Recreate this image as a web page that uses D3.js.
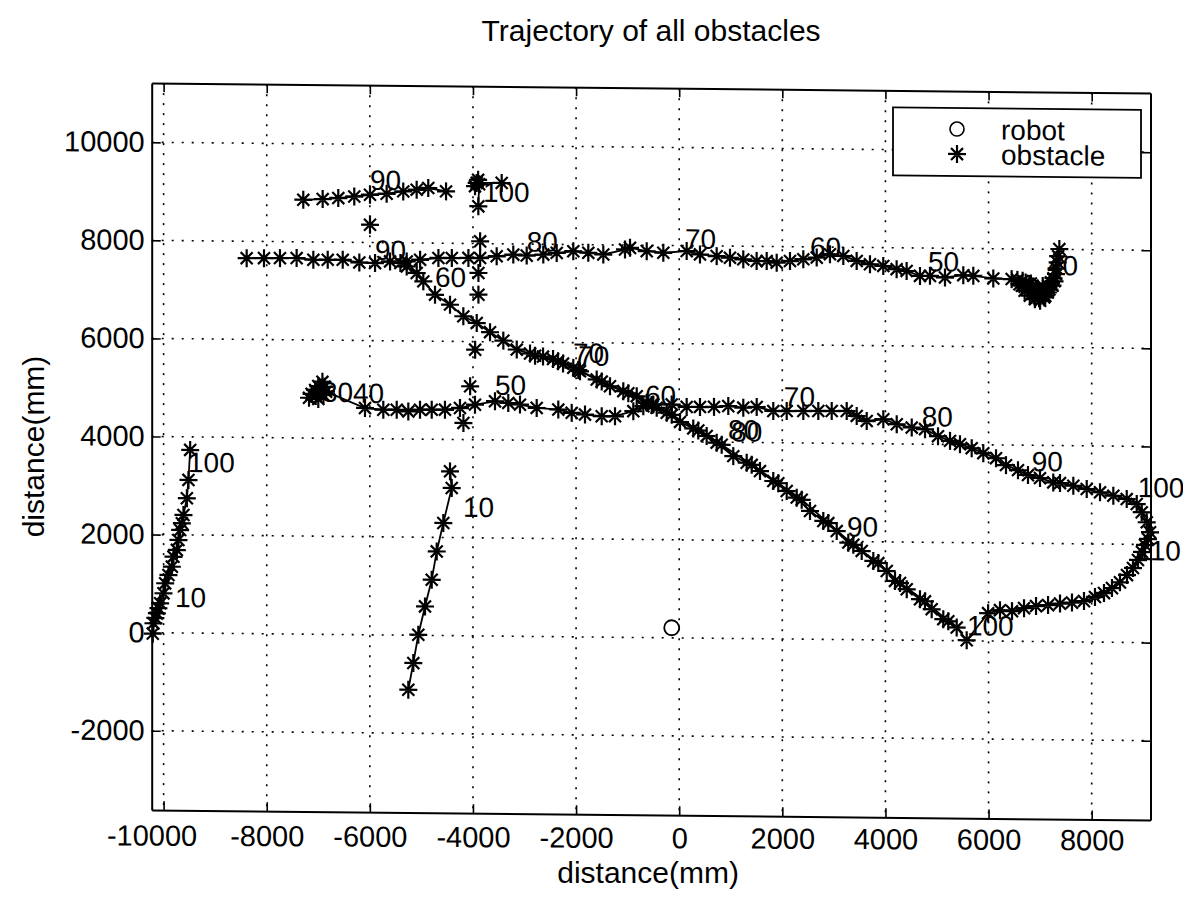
<!DOCTYPE html>
<html>
<head>
<meta charset="utf-8">
<script src="https://cdn.jsdelivr.net/npm/d3@7"></script>
<style>
  body { margin: 0; background: #fff; }
  text { font-family: "Liberation Sans", Arial, sans-serif; fill: #000; }
</style>
</head>
<body>
<div id="viz"></div>
<script>
// tick values of both axes
var xTicks = [-10000, -8000, -6000, -4000, -2000, 0, 2000, 4000, 6000, 8000];
var yTicks = [-2000, 0, 2000, 4000, 6000, 8000, 10000];

// robot position
var robot = [[-145, 205]];

// long upper track (comes down the right arm of the knot near x=7000, then goes left)
var mainTrack = [
  [7373, 8006], [7350, 7860], [7340, 7734], [7320, 7610], [7307, 7496], [7280, 7350], [7260, 7410], [7210, 7325], [7240, 7260], [7180, 7180],
  [7160, 7250], [7150, 7120], [7113, 7188], [7100, 7050], [7080, 7020], [7060, 7130], [7050, 7250], [7016, 7084], [7000, 6950], [6980, 7000],
  [6950, 7200], [6900, 6980], [6880, 7120], [6800, 7050], [6970, 7130], [6919, 7186], [6860, 7240], [6820, 7300], [6750, 7200], [6700, 7150],
  [6791, 7286], [6720, 7320], [6650, 7250], [6600, 7280], [6661, 7351], [6560, 7370], [6448, 7384], [6092, 7394],
  [5704, 7443], [5510, 7455], [5155, 7404], [4864, 7434], [4670, 7431], [4411, 7530], [4217, 7563], [3958, 7627], [3700, 7659], [3442, 7723],
  [3183, 7822], [2924, 7854], [2667, 7783], [2407, 7746], [2149, 7708], [1891, 7672], [1697, 7703], [1502, 7700], [1243, 7732], [985, 7763],
  [727, 7793], [403, 7824], [145, 7889], [-308, 7851], [-630, 7880], [-954, 7944], [-1051, 7909], [-1472, 7803], [-1763, 7834], [-2054, 7863],
  [-2376, 7826], [-2636, 7789], [-2958, 7765], [-3218, 7783], [-3540, 7745], [-3861, 7707], [-4088, 7705], [-4410, 7701], [-4670, 7698], [-5025, 7659],
  [-5285, 7622], [-5608, 7618], [-5899, 7582], [-6204, 7591], [-6526, 7642], [-6817, 7639], [-7096, 7636], [-7420, 7667], [-7743, 7663], [-8053, 7659],
  [-8389, 7655]
];
var mainLabels = [["40", 7134, 7678], ["50", 4826, 7733], ["60", 2537, 8002], ["70", 112, 8147], ["80", -2958, 8056], ["90", -5899, 7853]];

// short track at the top left
var topTrack = [
  [-7291, 8857], [-6915, 8876], [-6612, 8900], [-6302, 8935], [-5997, 8974], [-5674, 8998], [-5352, 9049], [-5092, 9086], [-4867, 9123], [-4522, 9058]
];
var topCluster = [[-3443, 9242], [-3928, 9236], [-3900, 9300], [-3960, 9170], [-3880, 9210], [-3896, 8760]];
var topLabels = [["90", -5997, 9280], ["100", -3807, 9060]];

// single detections without a line
var singles = [[-5997, 8362], [-3861, 8046], [-3894, 7402], [-3894, 6959], [-3958, 5836], [-4055, 5087], [-4185, 4339]];

// diagonal track down to the right, then along the bottom of the loop
var diagTrack = [
  [-5407, 7588], [-5285, 7520], [-5091, 7388], [-4963, 7218], [-4736, 6949], [-4445, 6749], [-4187, 6513], [-3927, 6381], [-3669, 6196], [-3411, 6026],
  [-3151, 5846], [-2893, 5767], [-2641, 5709], [-2447, 5660], [-2253, 5570], [-2054, 5485], [-1924, 5417], [-1600, 5252], [-1342, 5118], [-1084, 5020],
  [-824, 4920], [-630, 4787], [-436, 4688], [-242, 4588], [16, 4404], [273, 4274], [533, 4124], [727, 3988], [1049, 3718], [1309, 3586],
  [1567, 3418], [1825, 3217], [2085, 3017], [2279, 2884], [2537, 2614], [2795, 2413], [3055, 2211], [3280, 1977], [3540, 1810], [3765, 1608],
  [4025, 1407], [4186, 1205], [4413, 1039], [4670, 837], [4897, 637], [5122, 435], [5382, 268], [5576, 11],
  [5991, 567], [6222, 631], [6455, 614], [6688, 677], [6921, 721], [7154, 744], [7386, 777], [7618, 800], [7851, 833], [8064, 918],
  [8239, 1001], [8394, 1104], [8549, 1223], [8685, 1373], [8801, 1518], [8898, 1682], [8976, 1846], [9034, 1989], [9092, 2113]
];
var diagLabels = [["60", -4736, 7316], ["70", -2060, 5797], ["80", 946, 4262], ["90", 3253, 2310], ["100", 5580, 318], ["110", 8863, 1885]];

// second track lying on the diagonal
var diagTrack2 = [
  [-2796, 5726], [-2350, 5619], [-1957, 5444], [-1503, 5211], [-987, 4979], [-533, 4746], [-145, 4547], [370, 4233], [824, 3947], [1406, 3545],
  [1922, 3176], [2376, 2843], [2892, 2372], [3377, 1936], [3862, 1567], [4283, 1164], [4767, 796], [5219, 394]
];
var diag2Labels = [["70", -1960, 5738], ["80", 1010, 4222]];

// middle track going right into the loop
var midTrack = [
  [-7180, 4820], [-7130, 4900], [-7060, 4980], [-7000, 5060], [-6920, 5150], [-6880, 5050], [-6960, 4950], [-7050, 4860], [-6900, 4880], [-7000, 4800],
  [-6850, 4950], [-6094, 4623], [-5739, 4592], [-5479, 4595], [-5254, 4563], [-5027, 4600], [-4800, 4603], [-4543, 4606], [-4252, 4644], [-3961, 4715],
  [-3573, 4787], [-3315, 4757], [-3088, 4725], [-2764, 4661], [-2345, 4632], [-2085, 4567], [-1827, 4535], [-1503, 4504], [-1245, 4508], [-890, 4614],
  [-696, 4718], [-502, 4755], [-145, 4759], [145, 4712], [403, 4714], [675, 4718], [952, 4737], [1243, 4708], [1503, 4726], [1825, 4645],
  [2085, 4648], [2407, 4652], [2698, 4655], [2958, 4658], [3249, 4661], [3443, 4562], [3637, 4462], [3959, 4500], [4219, 4401], [4510, 4337],
  [4768, 4306], [5020, 4166], [5253, 4073], [5446, 4008], [5673, 3929], [5898, 3829], [6145, 3730], [6338, 3590], [6571, 3490], [6765, 3391],
  [6998, 3332], [7255, 3247], [7386, 3235], [7644, 3183], [7904, 3119], [8162, 3054], [8420, 2988], [8680, 2923], [8874, 2824], [8971, 2656],
  [9068, 2452], [9132, 2250]
];
var midLabels = [["30", -6928, 4946], ["40", -6327, 4932], ["50", -3573, 5127], ["60", -663, 4946], ["70", 2029, 4947], ["80", 4703, 4570], ["90", 6837, 3677], ["100", 8893, 3170]];

// track along the left edge
var leftTrack = [
  [-10210, -20], [-10197, 190], [-10160, 300], [-10131, 395], [-10100, 500], [-10067, 600], [-10003, 804], [-9970, 1008], [-9906, 1179], [-9840, 1349],
  [-9809, 1553], [-9743, 1691], [-9712, 1895], [-9679, 2099], [-9646, 2236], [-9615, 2406], [-9549, 2747], [-9518, 3121], [-9485, 3733]
];
var leftLabels = [["10", -9779, 732], ["100", -9526, 3488]];

// short track near x=-4800
var lowTrack = [[-5254, -1113], [-5157, -567], [-5060, 11], [-4930, 590], [-4800, 1136], [-4703, 1714], [-4575, 2295], [-4412, 3011], [-4445, 3349]];
var lowLabels = [["10", -4193, 2631]];

var W = 1183, H = 898;
var pLeft = 151.7, pRight = 1150.5, pTop = 83, pBottom = 810;
var shear = 0.01; // the scanned figure sags to the right

var x = d3.scaleLinear().domain([-10231, 9141]).range([pLeft, pRight]);
var y = d3.scaleLinear().domain([-3617, 11208]).range([pBottom, pTop]);
var fmt = function (d) { return String(d); };

var svg = d3.select("div#viz").append("svg")
  .attr("width", W).attr("height", H)
  .style("background", "#fff");

var plot = svg.append("g")
  .attr("transform", "matrix(1," + shear + ",0,1,0," + (-shear * pLeft) + ")");

// dotted grid
plot.selectAll(null).data(xTicks).enter().append("line")
  .attr("x1", function (d) { return x(d); }).attr("x2", function (d) { return x(d); })
  .attr("y1", pTop).attr("y2", pBottom)
  .attr("stroke", "#000").attr("stroke-width", 1.6).attr("stroke-dasharray", "2,8");
plot.selectAll(null).data(yTicks).enter().append("line")
  .attr("y1", function (d) { return y(d); }).attr("y2", function (d) { return y(d); })
  .attr("x1", pLeft).attr("x2", pRight)
  .attr("stroke", "#000").attr("stroke-width", 1.6).attr("stroke-dasharray", "2,8");

// tracks
var line = d3.line().x(function (d) { return x(d[0]); }).y(function (d) { return y(d[1]); });
var star = "M-9,0L9,0M0,-9L0,9M-6,-6L6,6M-6,6L6,-6";

function drawTrack(pts, withLine) {
  if (withLine) {
    plot.append("path").datum(pts).attr("d", line)
      .attr("fill", "none").attr("stroke", "#000").attr("stroke-width", 1.8);
  }
  plot.selectAll(null).data(pts).enter().append("path")
    .attr("d", star)
    .attr("transform", function (d) { return "translate(" + x(d[0]) + "," + y(d[1]) + ")"; })
    .attr("fill", "none").attr("stroke", "#000").attr("stroke-width", 2.2);
}

function drawLabels(labels) {
  plot.selectAll(null).data(labels).enter().append("text")
    .attr("x", function (d) { return x(d[1]); })
    .attr("y", function (d) { return y(d[2]); })
    .attr("dy", "0.36em")
    .attr("font-size", 28)
    .text(function (d) { return d[0]; });
}

drawTrack(mainTrack, true);
drawTrack(topTrack, true);
drawTrack(topCluster, true);
drawTrack(singles, false);
drawTrack(diagTrack, true);
drawTrack(diagTrack2, true);
drawTrack(midTrack, true);
drawTrack(leftTrack, true);
drawTrack(lowTrack, true);

drawLabels(mainLabels);
drawLabels(topLabels);
drawLabels(diagLabels);
drawLabels(diag2Labels);
drawLabels(midLabels);
drawLabels(leftLabels);
drawLabels(lowLabels);

// robot
plot.selectAll(null).data(robot).enter().append("circle")
  .attr("cx", function (d) { return x(d[0]); })
  .attr("cy", function (d) { return y(d[1]); })
  .attr("r", 7.5)
  .attr("fill", "none").attr("stroke", "#000").attr("stroke-width", 1.8);

// frame with inner ticks on all four sides
function styleAxis(g) {
  g.selectAll("path.domain").attr("stroke", "#000").attr("stroke-width", 2);
  g.selectAll(".tick line").attr("stroke", "#000").attr("stroke-width", 1.6);
}
plot.append("g").attr("transform", "translate(0," + pBottom + ")")
  .call(d3.axisBottom(x).tickValues(xTicks).tickSize(-9).tickSizeOuter(0).tickFormat(""))
  .call(styleAxis);
plot.append("g").attr("transform", "translate(0," + pTop + ")")
  .call(d3.axisTop(x).tickValues(xTicks).tickSize(-9).tickSizeOuter(0).tickFormat(""))
  .call(styleAxis);
plot.append("g").attr("transform", "translate(" + pRight + ",0)")
  .call(d3.axisRight(y).tickValues(yTicks).tickSize(-9).tickSizeOuter(0).tickFormat(""))
  .call(styleAxis);
var yAxis = plot.append("g").attr("transform", "translate(" + pLeft + ",0)")
  .call(d3.axisLeft(y).tickValues(yTicks).tickSize(-9).tickSizeOuter(0).tickPadding(7).tickFormat(fmt))
  .call(styleAxis);
yAxis.selectAll("text").attr("font-size", 29).attr("font-family", "Liberation Sans, Arial, sans-serif");

// x tick labels (they sag only half as much as the frame)
var xAxis = svg.append("g")
  .attr("transform", "matrix(1," + (shear / 2) + ",0,1,0," + (pBottom - shear / 2 * pLeft) + ")")
  .call(d3.axisBottom(x).tickValues(xTicks).tickSize(0).tickPadding(15).tickFormat(fmt));
xAxis.select("path.domain").remove();
xAxis.selectAll("text").attr("font-size", 29).attr("font-family", "Liberation Sans, Arial, sans-serif")
  .attr("dx", function (d) { return d === xTicks[0] ? -12 : 0; });

// legend
var lg = plot.append("g").attr("transform", "translate(893,100)");
lg.append("rect").attr("width", 248).attr("height", 68)
  .attr("fill", "#fff").attr("stroke", "#000").attr("stroke-width", 1.8);
lg.append("circle").attr("cx", 64).attr("cy", 21).attr("r", 7)
  .attr("fill", "none").attr("stroke", "#000").attr("stroke-width", 1.6);
lg.append("path").attr("d", star).attr("transform", "translate(64,46)")
  .attr("fill", "none").attr("stroke", "#000").attr("stroke-width", 2.2);
lg.append("text").attr("x", 108).attr("y", 21).attr("dy", "0.36em").attr("font-size", 28).text("robot");
lg.append("text").attr("x", 108).attr("y", 46).attr("dy", "0.36em").attr("font-size", 28).text("obstacle");

// title and axis labels
svg.append("text").text("Trajectory of all obstacles")
  .attr("x", (pLeft + pRight) / 2).attr("y", 30).attr("dy", "0.36em")
  .attr("font-size", 30).style("text-anchor", "middle");
svg.append("text").text("distance(mm)")
  .attr("x", (pLeft + pRight) / 2 - 3).attr("y", 872).attr("dy", "0.36em")
  .attr("font-size", 30).style("text-anchor", "middle");
svg.append("text").text("distance(mm)")
  .attr("transform", "translate(33," + ((pTop + pBottom) / 2) + ") rotate(-90)")
  .attr("dy", "0.36em")
  .attr("font-size", 30).style("text-anchor", "middle");
</script>
</body>
</html>
